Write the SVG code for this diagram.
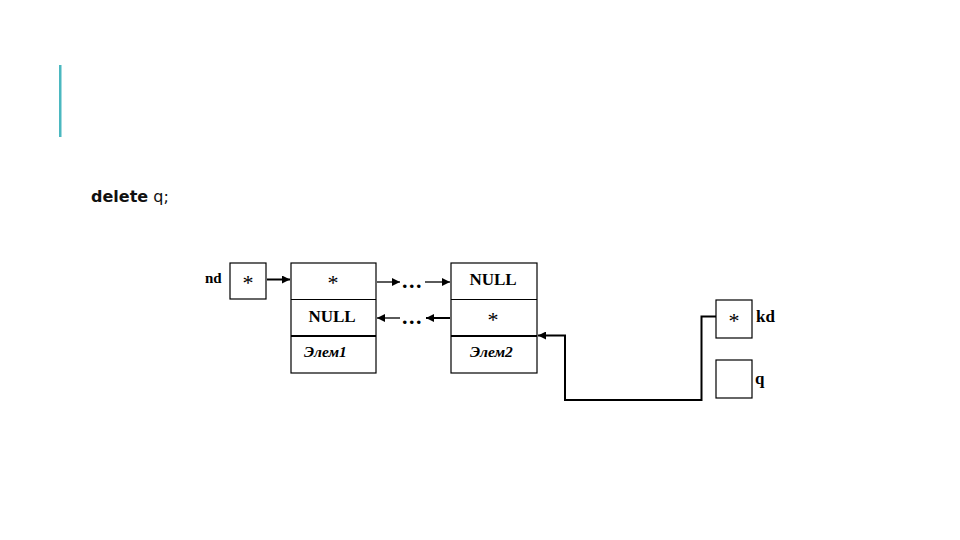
<svg xmlns="http://www.w3.org/2000/svg" width="960" height="540" viewBox="0 0 960 540">
<style>
.box{fill:#fff;stroke:#000;stroke-width:1.2}
.sep{stroke:#000;stroke-width:1.2}
.sepb{stroke:#000;stroke-width:2.2}
.ser{font-family:"Liberation Serif",serif;fill:#000}
.b{font-weight:bold;font-size:17px}
.ast{font-size:22px}
.it{font-style:italic;font-weight:bold;font-size:15.5px}
.ln{fill:none;stroke:#000;stroke-width:1.3}
.lnb{fill:none;stroke:#000;stroke-width:2}
.dots{font-family:"Liberation Serif",serif;font-weight:bold;font-size:22px;letter-spacing:1.5px;fill:#000}
</style>
<defs>
<marker id="ah" viewBox="0 0 10 10" refX="10" refY="5" markerWidth="10" markerHeight="8" markerUnits="userSpaceOnUse" orient="auto">
<path d="M0,0 L10,5 L0,10 Z" fill="#000"/>
</marker>
</defs>
<rect x="59" y="65" width="2.5" height="72" fill="#4bb8c0"/>
<text x="91" y="202" font-family="'DejaVu Sans',sans-serif" font-size="16" fill="#111"><tspan font-weight="bold">delete</tspan> q;</text>

<g id="nd">
<text x="205" y="283" class="ser b" style="font-size:15px">nd</text>
<rect x="230" y="263" width="36" height="36" class="box"/>
<text x="248" y="290" class="ser ast" text-anchor="middle">*</text>
</g>

<g id="elem1">
<rect x="291" y="263" width="85" height="110" class="box"/>
<line x1="291" y1="299.5" x2="376" y2="299.5" class="sep"/>
<line x1="291" y1="336" x2="376" y2="336" class="sepb"/>
<text x="333" y="290" class="ser ast" text-anchor="middle">*</text>
<text x="332" y="322" class="ser b" text-anchor="middle">NULL</text>
<text x="304" y="357" class="ser it">Элем1</text>
</g>

<g id="elem2">
<rect x="451" y="263" width="86" height="110" class="box"/>
<line x1="451" y1="299.5" x2="537" y2="299.5" class="sep"/>
<line x1="451" y1="336" x2="537" y2="336" class="sepb"/>
<text x="493" y="285" class="ser b" text-anchor="middle">NULL</text>
<text x="493" y="327" class="ser ast" text-anchor="middle">*</text>
<text x="470" y="357" class="ser it">Элем2</text>
</g>

<g id="kd">
<rect x="716" y="300" width="36" height="38" class="box"/>
<text x="734" y="328" class="ser ast" text-anchor="middle">*</text>
<text x="756" y="322" class="ser b">kd</text>
</g>

<g id="q">
<rect x="716" y="360" width="36" height="38" class="box"/>
<text x="755" y="384" class="ser b">q</text>
</g>

<g id="connectors">
<line x1="267" y1="279.5" x2="290" y2="279.5" class="lnb" marker-end="url(#ah)"/>
<line x1="377" y1="282" x2="400" y2="282" class="ln" marker-end="url(#ah)"/>
<text x="402" y="288" class="dots">...</text>
<line x1="425" y1="282" x2="450" y2="282" class="ln" marker-end="url(#ah)"/>
<line x1="450" y1="318" x2="426" y2="318" class="lnb" marker-end="url(#ah)"/>
<text x="402" y="324" class="dots">...</text>
<line x1="400" y1="318" x2="377" y2="318" class="ln" marker-end="url(#ah)"/>
<polyline points="716,316.5 701.5,316.5 701.5,400 565,400 565,335.5 538,335.5" class="lnb" marker-end="url(#ah)"/>
</g>
</svg>
